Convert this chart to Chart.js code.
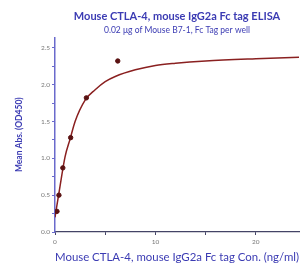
<!DOCTYPE html>
<html>
<head>
<meta charset="utf-8">
<script src="https://cdn.jsdelivr.net/npm/chart.js@4"></script>
<style>
  html, body { margin: 0; padding: 0; background: #fff; }
  #wrap { width: 304px; height: 268px; }
</style>
</head>
<body>
<div id="wrap"><canvas id="chart"></canvas></div>
<script>
// measured points (ng/ml vs OD450)
const concentrations = [0.195, 0.39, 0.78, 1.56, 3.125, 6.25];
const meanAbs = [0.28, 0.50, 0.87, 1.28, 1.82, 2.32];

// fitted curve
const fitConc = [0, 0.5, 1, 1.5, 2, 3, 4, 5, 6, 8, 10, 12, 15, 20, 24.3];
const fitAbs = [0.20, 0.62, 1.02, 1.26, 1.50, 1.79, 1.93, 2.04, 2.11, 2.20, 2.26, 2.29, 2.32, 2.35, 2.37];

const yTicks = [0, 0.25, 0.5, 0.75, 1, 1.25, 1.5, 1.75, 2, 2.25, 2.5];
const xTicks = [0, 5, 10, 15, 20];

const blue = '#3b3bb3';
const fontFamily = 'Lato, "Open Sans", sans-serif';

Chart.defaults.font.family = fontFamily;

new Chart(document.getElementById('chart'), {
	type: 'scatter',
	data: {
		datasets: [
			{
				type: 'line',
				data: fitConc.map((x, i) => ({ x, y: fitAbs[i] })),
				borderColor: '#8a2020',
				borderWidth: 1.5,
				pointRadius: 0,
				cubicInterpolationMode: 'monotone',
				order: 2,
			},
			{
				data: concentrations.map((x, i) => ({ x, y: meanAbs[i] })),
				backgroundColor: '#5a1212',
				borderColor: '#5a1212',
				pointRadius: 2.2,
				order: 1,
			},
		],
	},
	options: {
		responsive: true,
		maintainAspectRatio: false,
		animation: false,
		layout: { padding: { left: 0, right: 0, bottom: 0 } },
		plugins: {
			legend: { display: false },
			tooltip: { enabled: false },
			title: {
				display: true,
				text: 'Mouse CTLA-4, mouse IgG2a Fc tag ELISA',
				color: blue,
				fullSize: false,
				font: { size: 11, weight: 'bold' },
				padding: { top: 10, bottom: 2 },
			},
			subtitle: {
				display: true,
				text: '0.02 μg of Mouse B7-1, Fc Tag per well',
				color: blue,
				fullSize: false,
				font: { size: 8.5 },
				padding: { top: 0, bottom: 2 },
			},
		},
		scales: {
			x: {
				type: 'linear',
				min: 0,
				max: 24.3,
				afterBuildTicks: (scale) => {
					scale.ticks = xTicks.map((v) => ({ value: v }));
				},
				afterFit: (scale) => {
					scale.height = 36;
				},
				ticks: {
					color: '#777',
					font: { size: 6.5 },
					padding: 3,
					callback: (v) => (v % 10 === 0 ? String(v) : ''),
				},
				grid: {
					drawOnChartArea: false,
					drawTicks: true,
					tickLength: 3,
					color: '#444466',
				},
				border: { color: '#444466', width: 1.2 },
				title: {
					display: true,
					text: 'Mouse CTLA-4, mouse IgG2a Fc tag Con. (ng/ml)',
					color: blue,
					font: { size: 11.5 },
					padding: { top: 3 },
				},
			},
			y: {
				min: 0,
				max: 2.64,
				afterBuildTicks: (scale) => {
					scale.ticks = yTicks.map((v) => ({ value: v }));
				},
				afterFit: (scale) => {
					scale.width = 55;
				},
				ticks: {
					color: '#777',
					font: { size: 6.5 },
					padding: 2,
					callback: (v) => (Math.abs(v * 2 - Math.round(v * 2)) < 1e-6 ? v.toFixed(1) : ''),
				},
				grid: {
					drawOnChartArea: false,
					drawTicks: true,
					tickLength: 3,
					color: '#6a6acc',
				},
				border: { color: '#6a6acc', width: 1.5 },
				title: {
					display: true,
					text: 'Mean Abs. (OD450)',
					color: blue,
					font: { size: 8.5, weight: 'bold' },
					padding: { top: 14, bottom: 4 },
				},
			},
		},
	},
});
</script>
</body>
</html>
